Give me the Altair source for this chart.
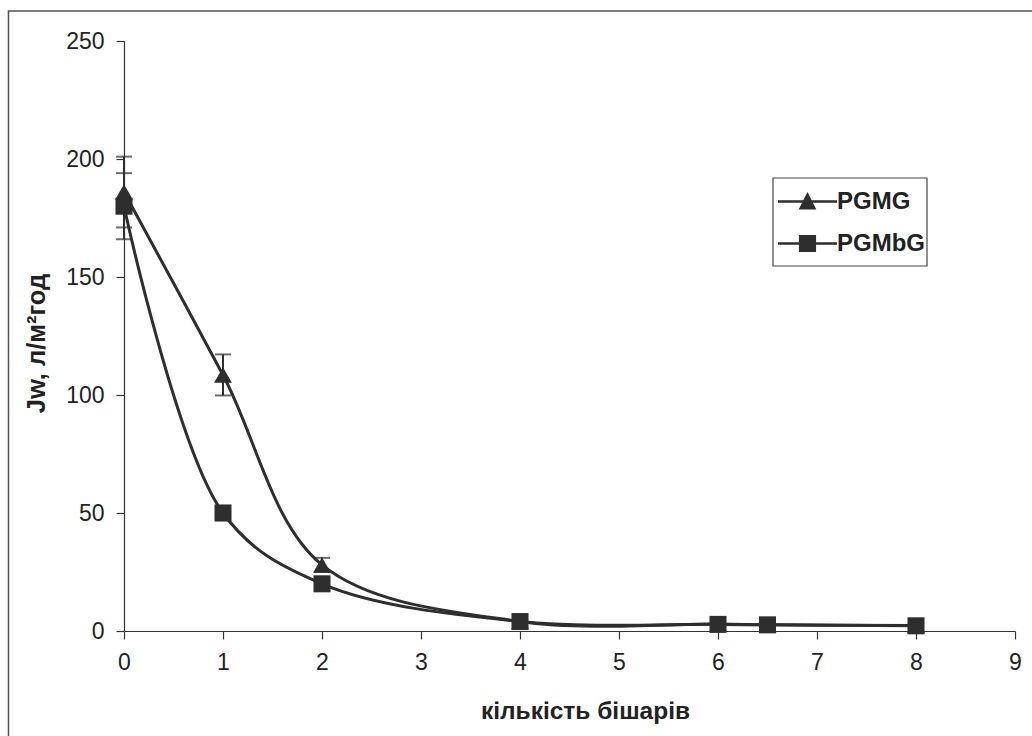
import altair as alt
import pandas as pd

# ---- data ----
x_vals = [0, 1, 2, 4, 6, 6.5, 8]
pgmg = [186, 108.5, 28, 4, 3, 2.6, 2.3]
pgmbg = [180, 50, 20, 4, 2.8, 2.6, 2.2]
pgmg_err = [15, 8.7, 3, 0, 0, 0, 0]
pgmbg_err = [14, 3, 1, 0, 0, 0, 0]
series_names = ["PGMG", "PGMbG"]

x_ticks = list(range(0, 10))
y_ticks = [0, 50, 100, 150, 200, 250]

rows = []
for name, vals, errs in [("PGMG", pgmg, pgmg_err), ("PGMbG", pgmbg, pgmbg_err)]:
    for x, v, e in zip(x_vals, vals, errs):
        rows.append({"x": x, "y": v, "err": e, "lo": v - e, "hi": v + e, "series": name})
df = pd.DataFrame(rows)

caps = []
for r in rows:
    if r["err"] > 0:
        caps.append({"x": r["x"], "y": r["lo"], "series": r["series"]})
        caps.append({"x": r["x"], "y": r["hi"], "series": r["series"]})
df_caps = pd.DataFrame(caps)

INK = "#2e2e2e"
FONT = "Liberation Sans"

xscale = alt.Scale(domain=[0, 9], nice=False, zero=False)
yscale = alt.Scale(domain=[0, 250], nice=False)

xenc = alt.X("x:Q", scale=xscale, axis=alt.Axis(
    values=x_ticks, title="кількість бішарів", format="d",
    titleX=461, titleY=87, titleBaseline="alphabetic", titleAnchor="start", titleAlign="center",
    titleFontSize=24.5))
yenc = alt.Y("y:Q", scale=yscale, axis=alt.Axis(
    values=y_ticks, title="Jw, л/м²год",
    titleX=-88, titleY=302, titleBaseline="middle", titleAlign="center", titleAngle=270,
    titleFontSize=25.5))

frame = alt.Chart(pd.DataFrame({"a": [0]})).mark_rect(
    fillOpacity=0, stroke="#555555", strokeWidth=1.5
).encode(x=alt.value(-115.5), x2=alt.value(930), y=alt.value(-30), y2=alt.value(720))

legend_box = alt.Chart(pd.DataFrame({"a": [0]})).mark_rect(
    fill="white", stroke="#444444", strokeWidth=1.2
).encode(x=alt.value(649), x2=alt.value(803), y=alt.value(137), y2=alt.value(225))

base = alt.Chart(df)

lines = base.mark_line(interpolate="catmull-rom", strokeWidth=3, color=INK).encode(
    x=xenc, y=yenc, detail="series:N")

err_df = df[df["err"] > 0]
errbars = alt.Chart(err_df).mark_rule(strokeWidth=2, color=INK).encode(
    x=alt.X("x:Q", scale=xscale), y=alt.Y("lo:Q", scale=yscale), y2="hi:Q")

capmarks = alt.Chart(df_caps).mark_tick(orient="horizontal", size=16, thickness=2, color=INK).encode(
    x=alt.X("x:Q", scale=xscale), y=alt.Y("y:Q", scale=yscale))

pts_g = base.transform_filter(alt.datum.series == "PGMG").mark_point(
    shape="triangle-up", filled=True, size=320, color=INK, opacity=1).encode(
    x=alt.X("x:Q", scale=xscale), y=alt.Y("y:Q", scale=yscale))
pts_b = base.transform_filter(alt.datum.series == "PGMbG").mark_point(
    shape="square", filled=True, size=290, color=INK, opacity=1).encode(
    x=alt.X("x:Q", scale=xscale), y=alt.Y("y:Q", scale=yscale))

tri_path = "M-1,-0.04H1V0.04H-1ZM0,-0.32L0.3,0.27L-0.3,0.27Z"
sq_path = "M-1,-0.04H1V0.04H-1ZM-0.29,-0.29H0.29V0.29H-0.29Z"

legend_layer = base.mark_point(filled=True, opacity=0, color=INK).encode(
    x=alt.X("x:Q", scale=xscale), y=alt.Y("y:Q", scale=yscale),
    shape=alt.Shape("series:N", scale=alt.Scale(domain=series_names, range=[tri_path, sq_path]),
                    legend=alt.Legend(
                        title=None, orient="none", legendX=654, legendY=131,
                        symbolSize=3481, symbolFillColor=INK, symbolStrokeColor=INK,
                        symbolStrokeWidth=0, symbolOpacity=1,
                        labelFont=FONT, labelFontSize=24, labelFontWeight="bold", labelColor="#222222",
                        labelOffset=0, padding=0, rowPadding=-5)))

chart = alt.layer(frame, legend_box, lines, errbars, capmarks, pts_g, pts_b, legend_layer).properties(
    width=891, height=590,
    autosize=alt.AutoSizeParams(type="none"),
    padding={"left": 124, "top": 41, "right": 17, "bottom": 105},
    background="white",
).configure_view(stroke=None).configure_axis(
    grid=False, domainColor="#333333", domainWidth=1.2, tickColor="#333333", tickWidth=1.2,
    tickSize=8, labelFont=FONT, labelFontSize=23, labelColor="#222222", labelPadding=12,
    titleFont=FONT, titleFontSize=23, titleFontWeight="bold", titleColor="#222222",
    labelFlush=False, labelOverlap=False,
)

chart.save("out.html", embed_options={"renderer": "svg", "actions": False})
